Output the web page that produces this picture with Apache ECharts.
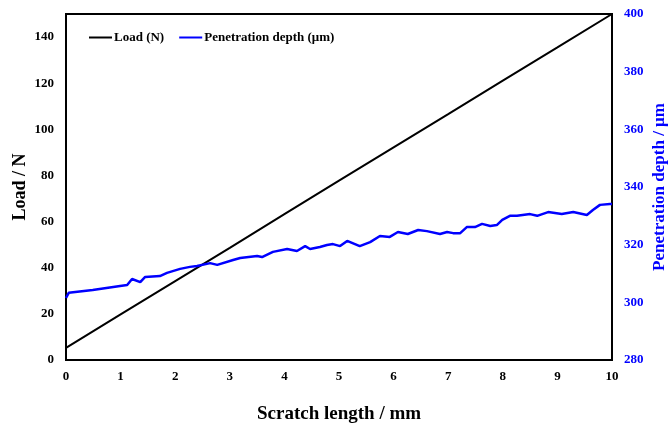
<!DOCTYPE html>
<html>
<head>
<meta charset="utf-8">
<script src="https://cdn.jsdelivr.net/npm/echarts@6/dist/echarts.min.js"></script>
<style>
  html, body { margin: 0; padding: 0; background: #fff; }
  #chart { width: 671px; height: 430px; }
</style>
</head>
<body>
<div id="chart"></div>
<script>
// scratch length (mm) vs load (N)
var loadX = [0, 1, 2, 3, 4, 5, 6, 7, 8, 9, 10];
var loadY = [5.3, 19.8, 34.2, 48.6, 63.2, 77.8, 92.2, 106.6, 121.1, 135.5, 150];

// scratch length (mm) vs penetration depth (um)
var depthX = [0, 0.05, 0.49, 0.99, 1.12, 1.21, 1.36, 1.45, 1.72, 1.85, 2.09, 2.27, 2.40,
    2.64, 2.77, 3.06, 3.19, 3.50, 3.59, 3.79, 4.05, 4.23, 4.38, 4.47, 4.65, 4.78,
    4.89, 5.02, 5.15, 5.38, 5.57, 5.75, 5.93, 6.08, 6.26, 6.45, 6.61, 6.85, 6.98,
    7.09, 7.22, 7.34, 7.49, 7.62, 7.77, 7.89, 7.99, 8.13, 8.26, 8.50, 8.63, 8.83,
    9.08, 9.29, 9.54, 9.65, 9.78, 9.96, 10];
var depthY = [301.5, 303.3, 304.3, 305.7, 306.0, 308.1, 307.0, 308.8, 309.1, 310.2, 311.6, 312.3, 312.6,
    313.6, 313.0, 314.7, 315.4, 316.1, 315.7, 317.5, 318.5, 317.8, 319.5, 318.5, 319.2, 319.9,
    320.2, 319.5, 321.3, 319.5, 320.9, 323.0, 322.7, 324.4, 323.7, 325.1, 324.7, 323.7, 324.4,
    324.0, 324.0, 326.1, 326.1, 327.2, 326.5, 326.8, 328.6, 330.0, 330.0, 330.6, 330.0, 331.3,
    330.6, 331.3, 330.3, 332.0, 333.8, 334.1, 334.1];

function pairs(xs, ys) {
    var out = [];
    for (var i = 0; i < xs.length; i++) out.push([xs[i], ys[i]]);
    return out;
}

var font = '"Liberation Serif", "Times New Roman", serif';
var chart = echarts.init(document.getElementById('chart'));

chart.setOption({
    animation: false,
    textStyle: { fontFamily: font },
    grid: {
        left: 66, right: 59, top: 14, bottom: 70,
        outerBoundsMode: 'none', containLabel: false,
        show: true, borderColor: '#000', borderWidth: 2
    },
    legend: {
        left: 84, top: 26, itemWidth: 23, itemHeight: 2, itemGap: 15,
        icon: 'rect',
        textStyle: { fontFamily: font, fontWeight: 'bold', fontSize: 13, color: '#000', padding: [0, 0, 0, -3] },
        data: ['Load (N)', 'Penetration depth (\u03bcm)']
    },
    xAxis: {
        type: 'value', min: 0, max: 10, interval: 1,
        name: 'Scratch length / mm', nameLocation: 'middle', nameGap: 45, nameMoveOverlap: false,
        nameTextStyle: { fontFamily: font, fontWeight: 'bold', fontSize: 19, color: '#000' },
        axisLine: { lineStyle: { color: '#000', width: 2 } },
        axisTick: { show: false },
        splitLine: { show: false },
        axisLabel: { fontFamily: font, fontWeight: 'bold', fontSize: 13, color: '#000', margin: 10 }
    },
    yAxis: [{
        type: 'value', min: 0, max: 150, interval: 20,
        name: 'Load / N', nameLocation: 'middle', nameGap: 37, nameMoveOverlap: false,
        nameTextStyle: { fontFamily: font, fontWeight: 'bold', fontSize: 18, color: '#000' },
        axisLine: { show: true, lineStyle: { color: '#000', width: 2 } },
        axisTick: { show: false },
        splitLine: { show: false },
        axisLabel: { fontFamily: font, fontWeight: 'bold', fontSize: 13, color: '#000', margin: 12, showMaxLabel: false }
    }, {
        type: 'value', min: 280, max: 400, interval: 20, position: 'right',
        name: 'Penetration depth / \u03bcm', nameLocation: 'middle', nameGap: 39, nameMoveOverlap: false,
        nameTextStyle: { fontFamily: font, fontWeight: 'bold', fontSize: 17, color: '#0000ff' },
        axisLine: { show: true, lineStyle: { color: '#000', width: 2 } },
        axisTick: { show: false },
        splitLine: { show: false },
        axisLabel: { fontFamily: font, fontWeight: 'bold', fontSize: 13, color: '#0000ff', margin: 12 }
    }],
    series: [{
        name: 'Load (N)', type: 'line', yAxisIndex: 0, showSymbol: false,
        lineStyle: { color: '#000', width: 2 }, itemStyle: { color: '#000' },
        data: pairs(loadX, loadY)
    }, {
        name: 'Penetration depth (\u03bcm)', type: 'line', yAxisIndex: 1, showSymbol: false,
        lineStyle: { color: '#0000ff', width: 2.5 }, itemStyle: { color: '#0000ff' },
        data: pairs(depthX, depthY)
    }]
});
</script>
</body>
</html>
